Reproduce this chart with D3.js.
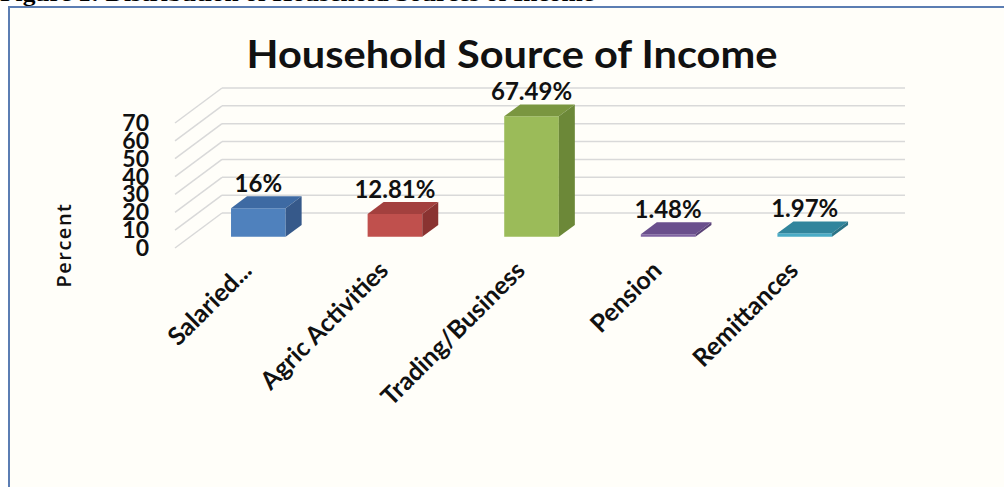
<!DOCTYPE html>
<html lang="en">
<head>
  <meta charset="UTF-8">
  <title>Household Source of Income</title>
  <script src="https://d3js.org/d3.v7.min.js"></script>
  <style>
    html, body { margin: 0; padding: 0; background: #fff; }
    svg { display: block; }
  </style>
</head>
<body>
  <div class="canvas"></div>
  <script>
    // data
    const categories = ['Salaried...', 'Agric Activities', 'Trading/Business', 'Pension', 'Remittances'];
    const values = [16, 12.81, 67.49, 1.48, 1.97];
    const valueLabels = ['16%', '12.81%', '67.49%', '1.48%', '1.97%'];
    const yTicks = [0, 10, 20, 30, 40, 50, 60, 70];

    const width = 1004;
    const height = 487;

    // 3d look: full depth of the floor, and where the bars sit in it
    const DX = 47, DY = -35;
    const zFront = 0.32, zBack = 0.66;

    const faces = [
      { front: '#4f81bd', top: '#3e6aa3', side: '#36598a' },
      { front: '#c0504d', top: '#a3403e', side: '#8a3331' },
      { front: '#9bbb59', top: '#7a9640', side: '#6c8838' },
      { front: '#8064a2', top: '#6a4f8c', side: '#5a4278' },
      { front: '#4bacc6', top: '#31859c', side: '#2b7386' }
    ];

    const svg = d3.select('.canvas')
                  .append('svg')
                  .attr('width', width)
                  .attr('height', height);

    // frame of the figure
    svg.append('rect')
       .attr('x', 9).attr('y', 7)
       .attr('width', width).attr('height', height)
       .attr('fill', '#fffef9')
       .attr('stroke', '#5b7db3')
       .attr('stroke-width', 2);

    // caption cut by the top edge
    svg.append('text')
       .attr('x', 0).attr('y', 1)
       .attr('font-family', '"Liberation Serif", serif')
       .attr('font-weight', 'bold')
       .attr('font-size', 20)
       .attr('textLength', 594)
       .attr('lengthAdjust', 'spacingAndGlyphs')
       .text('Figure 1: Distribution of Household Sources of Income');

    svg.append('text')
       .attr('x', 512).attr('y', 68)
       .attr('text-anchor', 'middle')
       .attr('font-family', 'Lato, sans-serif')
       .attr('font-weight', 'bold')
       .attr('font-size', 38)
       .attr('textLength', 531)
       .attr('lengthAdjust', 'spacingAndGlyphs')
       .attr('fill', '#111')
       .text('Household Source of Income');

    const x = d3.scaleBand()
                .domain(categories)
                .range([175, 858])
                .paddingInner(0.6)
                .paddingOuter(0.3);

    const y = d3.scaleLinear()
                .domain([0, 70])
                .range([248, 123]);

    // oblique projection: front plane position, value, depth 0..1
    const P = (px, v, z) => [px + z * DX, y(v) + z * DY];
    const poly = pts => pts.map(p => p.join(',')).join(' ');

    const [x0, x1] = x.range();
    const grid = svg.append('g')
                    .attr('stroke', '#d9d9d9')
                    .attr('stroke-width', 1.5)
                    .attr('fill', 'none');

    // back wall lines
    grid.selectAll('.back')
        .data(yTicks)
        .enter()
        .append('line')
        .attr('x1', d => P(x0, d, 1)[0])
        .attr('y1', d => P(x0, d, 1)[1])
        .attr('x2', d => P(x1, d, 1)[0])
        .attr('y2', d => P(x1, d, 1)[1]);

    // side wall lines
    grid.selectAll('.side')
        .data(yTicks)
        .enter()
        .append('line')
        .attr('x1', d => P(x0, d, 0)[0])
        .attr('y1', d => P(x0, d, 0)[1])
        .attr('x2', d => P(x0, d, 1)[0])
        .attr('y2', d => P(x0, d, 1)[1]);

    // y tick labels
    svg.append('g')
       .selectAll('text')
       .data(yTicks)
       .enter()
       .append('text')
       .attr('x', 149)
       .attr('y', d => y(d) + 8)
       .attr('text-anchor', 'end')
       .attr('font-family', 'Lato, sans-serif')
       .attr('font-weight', 'bold')
       .attr('font-size', 23)
       .attr('fill', '#111')
       .text(d => d);

    svg.append('text')
       .attr('transform', 'translate(71, 245) rotate(-90)')
       .attr('text-anchor', 'middle')
       .attr('font-family', '"Open Sans", sans-serif')
       .attr('font-weight', 600)
       .attr('font-size', 20)
       .attr('letter-spacing', 1.5)
       .attr('fill', '#111')
       .text('Percent');

    const rows = categories.map((c, i) => ({ c, v: values[i], label: valueLabels[i], col: faces[i] }));

    const bars = svg.append('g')
                    .selectAll('g')
                    .data(rows)
                    .enter()
                    .append('g');

    const xl = d => x(d.c);
    const xr = d => x(d.c) + x.bandwidth();

    // front
    bars.append('polygon')
        .attr('points', d => poly([P(xl(d), 0, zFront), P(xr(d), 0, zFront), P(xr(d), d.v, zFront), P(xl(d), d.v, zFront)]))
        .attr('fill', d => d.col.front);
    // top
    bars.append('polygon')
        .attr('points', d => poly([P(xl(d), d.v, zFront), P(xr(d), d.v, zFront), P(xr(d), d.v, zBack), P(xl(d), d.v, zBack)]))
        .attr('fill', d => d.col.top);
    // right side
    bars.append('polygon')
        .attr('points', d => poly([P(xr(d), 0, zFront), P(xr(d), 0, zBack), P(xr(d), d.v, zBack), P(xr(d), d.v, zFront)]))
        .attr('fill', d => d.col.side);

    // value labels
    bars.append('text')
        .attr('x', d => P(x(d.c) + x.bandwidth() / 2, d.v, zFront)[0])
        .attr('y', d => P(0, d.v, zBack)[1] - 4)
        .attr('text-anchor', 'middle')
        .attr('font-family', 'Lato, sans-serif')
        .attr('font-weight', 'bold')
        .attr('font-size', 24)
        .attr('fill', '#111')
        .text(d => d.label);

    // category labels at 45 degrees
    svg.append('g')
       .selectAll('text')
       .data(categories)
       .enter()
       .append('text')
       .attr('transform', d => `translate(${x(d) + x.bandwidth() / 2 + 10}, 272) rotate(-45)`)
       .attr('text-anchor', 'end')
       .attr('font-family', 'Lato, sans-serif')
       .attr('font-weight', 'bold')
       .attr('font-size', 25)
       .attr('fill', '#111')
       .text(d => d);
  </script>
</body>
</html>
